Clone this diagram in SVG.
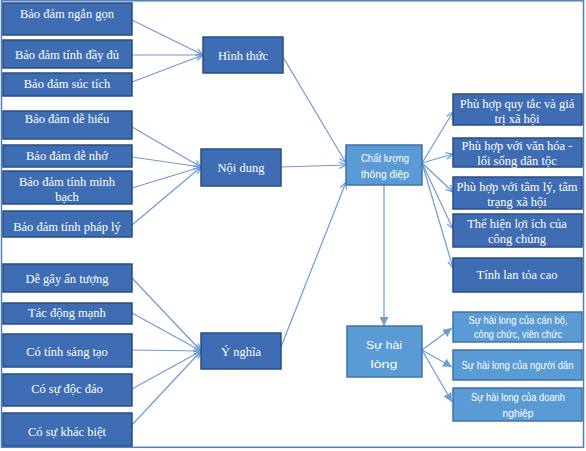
<svg xmlns="http://www.w3.org/2000/svg" width="586" height="451" viewBox="0 0 586 451">
<defs>
<marker id="av" viewBox="0 0 10 10" refX="10" refY="5" markerWidth="8" markerHeight="8" markerUnits="userSpaceOnUse" orient="auto">
<path d="M1,1 L10,5 L1,9" fill="none" stroke="#6f9bd6" stroke-width="1.5"/>
</marker>
<marker id="af" viewBox="0 0 10 10" refX="10" refY="5" markerWidth="9" markerHeight="9" markerUnits="userSpaceOnUse" orient="auto">
<path d="M0,0 L10,5 L0,10 Z" fill="#6f9bd6"/>
</marker>
<style>
.d{fill:#3f6db3;stroke:#2a4c82;stroke-width:1.5}
.l{fill:#5b9bd5;stroke:#3f73a8;stroke-width:1.5}
.t{font-family:"Liberation Serif","Times New Roman",serif;font-size:12.5px;fill:#ffffff;text-anchor:middle}
.s{font-family:"Liberation Sans",Arial,sans-serif;font-size:11px;fill:#ffffff;text-anchor:middle}
.c line{stroke:#6f9bd6;stroke-width:1.2;fill:none}
</style>
</defs>
<rect x="1.5" y="0.8" width="582" height="446.5" fill="#ffffff" stroke="#4f7fc0" stroke-width="1.5"/>

<g class="c">
<line x1="132" y1="20" x2="203" y2="55" marker-end="url(#av)"/>
<line x1="132" y1="55" x2="203" y2="55" marker-end="url(#av)"/>
<line x1="132" y1="82" x2="203" y2="55" marker-end="url(#av)"/>
<line x1="132" y1="127" x2="201" y2="167" marker-end="url(#av)"/>
<line x1="132" y1="157" x2="201" y2="167" marker-end="url(#av)"/>
<line x1="132" y1="188" x2="201" y2="167" marker-end="url(#av)"/>
<line x1="132" y1="225" x2="201" y2="167" marker-end="url(#av)"/>
<line x1="132" y1="278" x2="201" y2="351" marker-end="url(#av)"/>
<line x1="132" y1="313" x2="201" y2="351" marker-end="url(#av)"/>
<line x1="132" y1="350" x2="201" y2="351" marker-end="url(#av)"/>
<line x1="132" y1="389" x2="201" y2="351" marker-end="url(#av)"/>
<line x1="132" y1="425" x2="201" y2="351" marker-end="url(#av)"/>
<line x1="283" y1="57" x2="346" y2="163" marker-end="url(#av)"/>
<line x1="281" y1="167" x2="346" y2="165" marker-end="url(#av)"/>
<line x1="281" y1="347" x2="346" y2="182" marker-end="url(#av)"/>
<line x1="422" y1="163" x2="453" y2="112" marker-end="url(#av)"/>
<line x1="422" y1="163" x2="453" y2="154" marker-end="url(#av)"/>
<line x1="422" y1="163" x2="453" y2="192" marker-end="url(#av)"/>
<line x1="422" y1="163" x2="453" y2="229" marker-end="url(#av)"/>
<line x1="422" y1="163" x2="453" y2="268" marker-end="url(#av)"/>
<line x1="384" y1="185" x2="384" y2="326" marker-end="url(#af)"/>
<line x1="422" y1="350" x2="452" y2="328" marker-end="url(#af)"/>
<line x1="422" y1="350" x2="452" y2="367" marker-end="url(#af)"/>
<line x1="422" y1="350" x2="452" y2="402" marker-end="url(#af)"/>
</g>

<g id="n1"><rect class="d" x="3" y="3" width="129" height="32"/><text class="t" x="67" y="17.5">Bảo đảm ngắn gọn</text></g>
<g id="n2"><rect class="d" x="3" y="40" width="129" height="28"/><text class="t" x="67" y="58.5">Bảo đảm tính đầy đủ</text></g>
<g id="n3"><rect class="d" x="3" y="73" width="129" height="23"/><text class="t" x="67" y="88">Bảo đảm súc tích</text></g>
<g id="n4"><rect class="d" x="3" y="111" width="129" height="28"/><text class="t" x="67" y="122.5">Bảo đảm dễ hiểu</text></g>
<g id="n5"><rect class="d" x="3" y="145" width="129" height="22"/><text class="t" x="67" y="159.5">Bảo đảm dễ nhớ</text></g>
<g id="n6"><rect class="d" x="3" y="171" width="129" height="33"/><text class="t" x="67" y="185.5">Bảo đảm tính minh</text><text class="t" x="67" y="201">bạch</text></g>
<g id="n7"><rect class="d" x="3" y="211" width="129" height="26"/><text class="t" x="67" y="231">Bảo đảm tính pháp lý</text></g>
<g id="n8"><rect class="d" x="3" y="264" width="129" height="28"/><text class="t" x="67" y="283">Dễ gây ấn tượng</text></g>
<g id="n9"><rect class="d" x="3" y="303" width="129" height="21"/><text class="t" x="67" y="317">Tác động mạnh</text></g>
<g id="n10"><rect class="d" x="3" y="334" width="129" height="33"/><text class="t" x="67" y="356">Có tính sáng tạo</text></g>
<g id="n11"><rect class="d" x="3" y="374" width="129" height="32"/><text class="t" x="67" y="392.5">Có sự độc đáo</text></g>
<g id="n12"><rect class="d" x="3" y="413" width="129" height="33"/><text class="t" x="67" y="436">Có sự khác biệt</text></g>

<g id="hinhthuc"><rect class="d" x="203" y="37" width="80" height="36"/><text class="t" x="243" y="59.5">Hình thức</text></g>
<g id="noidung"><rect class="d" x="201" y="149" width="80" height="37"/><text class="t" x="241" y="171.5">Nội dung</text></g>
<g id="ynghia"><rect class="d" x="201" y="333" width="80" height="36"/><text class="t" x="241" y="356">Ý nghĩa</text></g>

<g id="chatluong"><rect class="l" x="346" y="145" width="76" height="40"/><text class="s" x="385" y="162" font-size="12" textLength="48" lengthAdjust="spacingAndGlyphs">Chất lượng</text><text class="s" x="385" y="178" font-size="12" textLength="48" lengthAdjust="spacingAndGlyphs">thông điệp</text></g>

<g id="r1"><rect class="d" x="453" y="94" width="129" height="31"/><text class="t" x="517" y="108">Phù hợp quy tắc và giá</text><text class="t" x="517" y="123">trị xã hội</text></g>
<g id="r2"><rect class="d" x="453" y="138" width="129" height="29"/><text class="t" x="517" y="150">Phù hợp với văn hóa -</text><text class="t" x="517" y="165">lối sống dân tộc</text></g>
<g id="r3"><rect class="d" x="453" y="177" width="129" height="32"/><text class="t" x="517" y="191">Phù hợp với tâm lý, tâm</text><text class="t" x="517" y="206">trạng xã hội</text></g>
<g id="r4"><rect class="d" x="453" y="214" width="129" height="33"/><text class="t" x="517" y="228">Thể hiện lợi ích của</text><text class="t" x="517" y="243">công chúng</text></g>
<g id="r5"><rect class="d" x="453" y="258" width="129" height="34"/><text class="t" x="517" y="279">Tính lan tỏa cao</text></g>

<g id="suhailong"><rect class="l" x="347" y="326" width="75" height="51"/><text class="s" x="384" y="349" font-size="16" textLength="36" lengthAdjust="spacingAndGlyphs">Sự hài</text><text class="s" x="384" y="368" font-size="16" textLength="27" lengthAdjust="spacingAndGlyphs">lòng</text></g>

<g id="s1"><rect class="l" x="453" y="312" width="129" height="30"/><text class="s" x="518" y="324" textLength="99" lengthAdjust="spacingAndGlyphs">Sự hài long của cán bộ,</text><text class="s" x="518" y="338" textLength="88" lengthAdjust="spacingAndGlyphs">công chức, viên chức</text></g>
<g id="s2"><rect class="l" x="453" y="350" width="129" height="30"/><text class="s" x="517.5" y="369" font-size="9.5" textLength="112" lengthAdjust="spacingAndGlyphs">Sự hài long của người dân</text></g>
<g id="s3"><rect class="l" x="453" y="388" width="129" height="33"/><text class="s" x="518" y="401" textLength="94" lengthAdjust="spacingAndGlyphs">Sự hài long của doanh</text><text class="s" x="518" y="417" textLength="31" lengthAdjust="spacingAndGlyphs">nghiệp</text></g>
</svg>
